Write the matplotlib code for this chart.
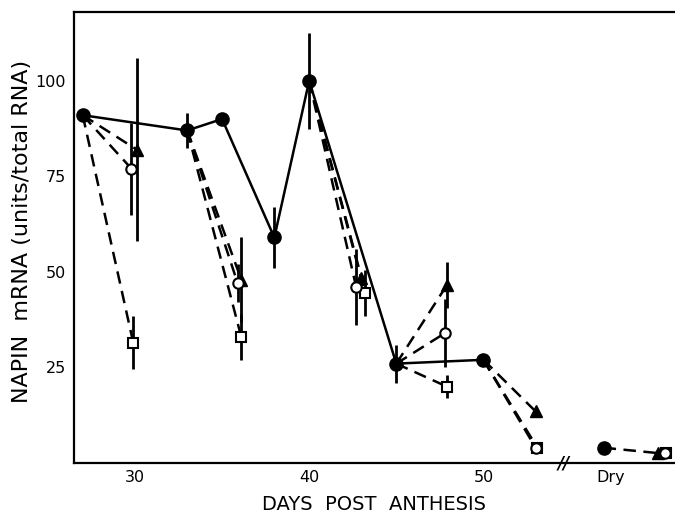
import matplotlib.pyplot as plt
import numpy as np

# main time course (filled circles, solid line)
main_x = [27, 33, 35, 38, 40, 45, 50]
main_y = [91, 87, 90, 59, 100, 26, 27]
main_err = [0, 4.5, 0, 8, 12.5, 5, 0]

# detached / dried samples, one per starting day (dashed lines)
start_x = [27, 33, 40, 45, 50]
start_y = [91, 87, 100, 26, 27]

tri_x = [30.1, 36.1, 43.0, 47.9, 53.0]
tri_y = [82, 48, 48.5, 46.5, 13.5]
tri_err = [24, 11, 0, 6, 0]

circ_x = [29.8, 35.9, 42.7, 47.8, 53.0]
circ_y = [77, 47, 46, 34, 4]
circ_err = [12, 5, 10, 9, 0]

sq_x = [29.9, 36.1, 43.2, 47.9, 53.1]
sq_y = [31.5, 33, 44.5, 20, 4]
sq_err = [7, 6, 6, 3, 0]

# dry seed
dry_x = [56.9]
dry_y = [4]
dry_tri_x = [60.0]
dry_tri_y = [2.6]
dry_sq_x = [60.5]
dry_sq_y = [2.6]
dry_circ_x = [60.4]
dry_circ_y = [2.6]

xticks = [30, 40, 50, 57.3]
xticklabels = ['30', '40', '50', 'Dry']
yticks = [25, 50, 75, 100]

plt.rcParams['font.family'] = ['DejaVu Sans']

fig = plt.figure(figsize=(6.75, 5.2), dpi=100)
ax = fig.add_axes([74/675, 57/520, 601/675, 451/520])

dash = (0, (5, 3))
lw = 1.8

# dashed lines from each start point to its treated samples
for i in range(len(start_x)):
    for xs, ys in [(tri_x, tri_y), (circ_x, circ_y), (sq_x, sq_y)]:
        ax.plot([start_x[i], xs[i]], [start_y[i], ys[i]], color='black',
                lw=lw, ls=dash, zorder=2)
ax.plot([dry_x[0], dry_tri_x[0]], [dry_y[0], dry_tri_y[0]], color='black',
        lw=lw, ls=dash, zorder=2)

# error bars
ax.errorbar(main_x, main_y, yerr=main_err, fmt='none', ecolor='black', elinewidth=2, capsize=0, zorder=3)
ax.errorbar(tri_x, tri_y, yerr=tri_err, fmt='none', ecolor='black', elinewidth=2, capsize=0, zorder=3)
ax.errorbar(circ_x, circ_y, yerr=circ_err, fmt='none', ecolor='black', elinewidth=2, capsize=0, zorder=3)
ax.errorbar(sq_x, sq_y, yerr=sq_err, fmt='none', ecolor='black', elinewidth=2, capsize=0, zorder=3)

# solid main line
ax.plot(main_x, main_y, color='black', lw=lw, marker='o', ms=9.5, zorder=4)
ax.plot(dry_x, dry_y, 'o', color='black', ms=9.5, zorder=4)

# markers for treatments
ax.plot(tri_x + dry_tri_x, tri_y + dry_tri_y, '^', color='black', ms=9, zorder=5, ls='none')
ax.plot(sq_x + dry_sq_x, sq_y + dry_sq_y, 's', mfc='white', mec='black', mew=1.5, ms=7.5, zorder=5, ls='none')
ax.plot(circ_x + dry_circ_x, circ_y + dry_circ_y, 'o', mfc='white', mec='black', mew=1.5, ms=7.5, zorder=6, ls='none')

# axis break mark
ax.text(54.6, 0, '//', ha='center', va='center', fontsize=12, fontweight='bold',
        fontstyle='italic', clip_on=False, zorder=7)

ax.set_xlim(26.5, 61.0)
ax.set_ylim(0, 118)
ax.set_xticks(xticks)
ax.set_xticklabels(xticklabels)
ax.set_yticks(yticks)
ax.tick_params(length=0, labelsize=11.5)
ax.tick_params(axis='x', pad=5)
ax.tick_params(axis='y', pad=6)

for s in ['left', 'bottom', 'top']:
    ax.spines[s].set_linewidth(1.6)
ax.spines['right'].set_visible(False)

ax.set_xlabel('DAYS  POST  ANTHESIS', fontsize=14, labelpad=7)
fig.text(22/675, 0.555, 'NAPIN  mRNA (units/total RNA)', rotation=90,
         ha='center', va='center', fontsize=16)

fig.savefig('out.png', dpi=100)
